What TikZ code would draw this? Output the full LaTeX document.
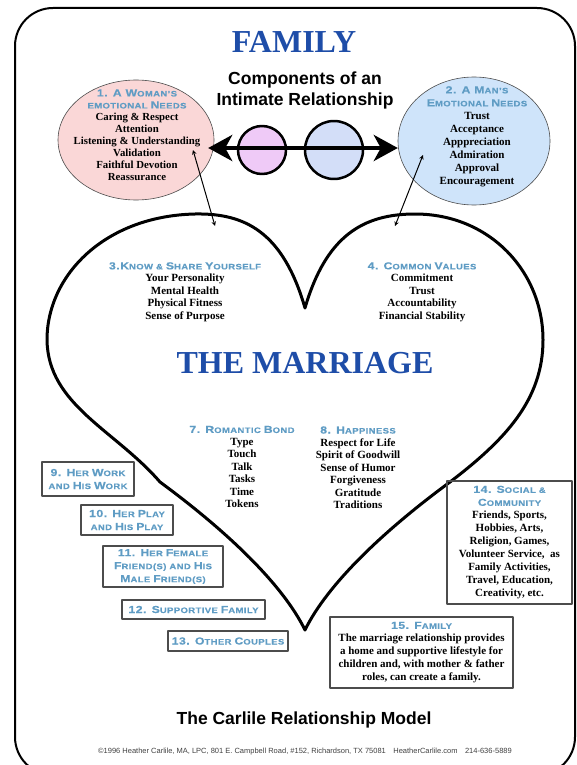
\documentclass[tikz,border=0pt]{standalone}
\usepackage{fontspec}
\setmainfont{Liberation Serif}
\newfontfamily\hdfont{Liberation Sans Bold}[FakeStretch=1.2,LetterSpace=5,FakeBold=0.4]
\newfontfamily\arialf{Liberation Sans}
\usetikzlibrary{arrows.meta}
\definecolor{titleblue}{HTML}{1E4DA8}
\definecolor{headblue}{HTML}{5F9CC4}
\definecolor{pinkfill}{HTML}{FAD7D7}
\definecolor{bluefill}{HTML}{CFE4FA}
\definecolor{purplefill}{HTML}{EFCAF7}
\definecolor{lavfill}{HTML}{D3DEF8}
\newcommand\hc[1]{{\fontsize{10.2}{10}\selectfont #1}}
\newcommand\hd[1]{{\hdfont\color{headblue}\fontsize{7.9}{10}\selectfont #1}}
\begin{document}
\begin{tikzpicture}[x=1pt,y=-1pt,line join=round,line cap=round,>=stealth,
  txt/.style={align=center,inner sep=0pt,font=\bfseries\fontsize{11}{12.5}\selectfont},
  lbox/.style={draw=black!70,line width=1.1pt,inner sep=0pt,align=center,font=\bfseries\fontsize{11}{13}\selectfont}]
\def\hw{3pt} % net tim
\useasboundingbox (0,0) rectangle (577,765);
\draw[line width=2pt,rounded corners=38pt] (15,8) rectangle (575,775);
% tieu de
\node (fam) at (294,42) {\bfseries\fontsize{32}{32}\selectfont\color{titleblue}FAMILY};
\node[align=center,font=\arialf\bfseries\fontsize{17.5}{21}\selectfont] (comp) at (305,90) {Components of an\\Intimate Relationship};
% hai nhu cau
\draw[fill=pinkfill,draw=black!70,line width=0.6pt] (136,140) ellipse (78 and 60);
\draw[fill=bluefill,draw=black!70,line width=0.6pt] (474,141) ellipse (76 and 64);
\node[inner sep=0pt] (pink) at (136,140) [minimum width=156pt,minimum height=120pt] {};
\node[inner sep=0pt] (blue) at (474,141) [minimum width=152pt,minimum height=128pt] {};
\node[txt,font=\bfseries\fontsize{10.8}{12}\selectfont] (wn) at (137,135) {\hd{\hc{1. A W}OMAN’S}\\\hd{EMOTIONAL \hc{N}EEDS}\\Caring \& Respect\\Attention\\Listening \& Understanding\\Validation\\Faithful Devotion\\Reassurance};
\node[txt,font=\bfseries\fontsize{11}{13}\selectfont] (mn) at (477,136.5) {\hd{\hc{2. A M}AN’S}\\\hd{\hc{E}MOTIONAL \hc{N}EEDS}\\Trust\\Acceptance\\Apppreciation\\Admiration\\Approval\\Encouragement};
% hai vong tron
\node[circle,draw,line width=2.5pt,fill=purplefill,minimum size=48pt,inner sep=0pt] (she) at (262,150) {};
\node[circle,draw,line width=2.5pt,fill=lavfill,minimum size=58pt,inner sep=0pt] (he) at (334,150) {};
\draw[line width=4.5pt,{Stealth[length=24pt,width=26pt,inset=7pt]}-{Stealth[length=24pt,width=26pt,inset=7pt]},shorten <=-6pt]
  ([yshift=-8pt]pink.east) -- ([yshift=-7pt]blue.west);
% trai tim
\draw[line width=\hw] (305,308) .. controls (283,232) and (245,213) .. (195,214)
  .. controls (105,216) and (47,275) .. (47,340)
  .. controls (48,405) and (115,430) .. (160,482)
  .. controls (228,532) and (283,585) .. (305,630)
  .. controls (327,585) and (382,532) .. (450,482)
  .. controls (505,440) and (543,400) .. (543,340)
  .. controls (543,272) and (490,214) .. (415,214)
  .. controls (363,214) and (326,236) .. (305,308);
\coordinate (wa) at (193,150); \coordinate (wb) at (215,226);
\coordinate (ma) at (423,155); \coordinate (mb) at (395,226);
\draw[<->,line width=1pt] (wa) -- (wb);
\draw[<->,line width=1pt] (ma) -- (mb);
\node[txt] (know) at (185,292) {\hd{\hc{3.K}NOW \& \hc{S}HARE \hc{Y}OURSELF}\\Your Personality\\Mental Health\\Physical Fitness\\Sense of Purpose};
\node[txt] (vals) at (422,292) {\hd{\hc{4. C}OMMON \hc{V}ALUES}\\Commitment\\Trust\\Accountability\\Financial Stability};
\node (marr) at (305,363) {\bfseries\fontsize{32}{32}\selectfont\color{titleblue}THE MARRIAGE};
\node[txt] (bond) at (242,467) {\hd{\hc{7. R}OMANTIC \hc{B}OND}\\Type\\Touch\\Talk\\Tasks\\Time\\Tokens};
\node[txt] (happy) at (358,467.5) {\hd{\hc{8. H}APPINESS}\\Respect for Life\\Spirit of Goodwill\\Sense of Humor\\Forgiveness\\Gratitude\\Traditions};
% cac o ben ngoai
\node[lbox,minimum width=92pt,minimum height=34pt] (work) at (88,479) {\hd{\hc{9. H}ER \hc{W}ORK}\\\hd{AND \hc{H}IS \hc{W}ORK}};
\node[lbox,minimum width=92pt,minimum height=30pt] (play) at (127,520) {\hd{\hc{10. H}ER \hc{P}LAY}\\\hd{AND \hc{H}IS \hc{P}LAY}};
\node[lbox,minimum width=120pt,minimum height=41pt] (friends) at (163,566.5) {\hd{\hc{11. H}ER \hc{F}EMALE}\\\hd{\hc{F}RIEND(S) AND \hc{H}IS}\\\hd{\hc{M}ALE \hc{F}RIEND(S)}};
\node[lbox,minimum width=143pt,minimum height=19pt] (supp) at (193.5,609.5) {\hd{\hc{12. S}UPPORTIVE \hc{F}AMILY}};
\node[lbox,minimum width=120pt,minimum height=20pt] (couples) at (228,641) {\hd{\hc{13. O}THER \hc{C}OUPLES}};
\node[lbox,minimum width=125pt,minimum height=123pt] (social) at (509.5,542.5) {\hd{\hc{14. S}OCIAL \&}\\\hd{\hc{C}OMMUNITY}\\Friends, Sports,\\Hobbies, Arts,\\Religion, Games,\\Volunteer Service,~ as\\Family Activities,\\Travel, Education,\\Creativity, etc.};
\node[lbox,minimum width=183pt,minimum height=71pt] (child) at (421.5,652.5) {\hd{\hc{15. F}AMILY}\\The marriage relationship provides\\a home and supportive lifestyle for\\children and, with mother \& father\\roles, can create a family.};
% chan trang
\node[font=\arialf\bfseries\fontsize{17.5}{20}\selectfont] (model) at (304,720) {The Carlile Relationship Model};
\node[font=\arialf\fontsize{7.5}{9}\selectfont,text=black!75] (copy) at (305,752) {©1996 Heather Carlile, MA, LPC, 801 E. Campbell Road, \#152, Richardson, TX 75081\quad HeatherCarlile.com\quad 214-636-5889};
\end{tikzpicture}
\end{document}
